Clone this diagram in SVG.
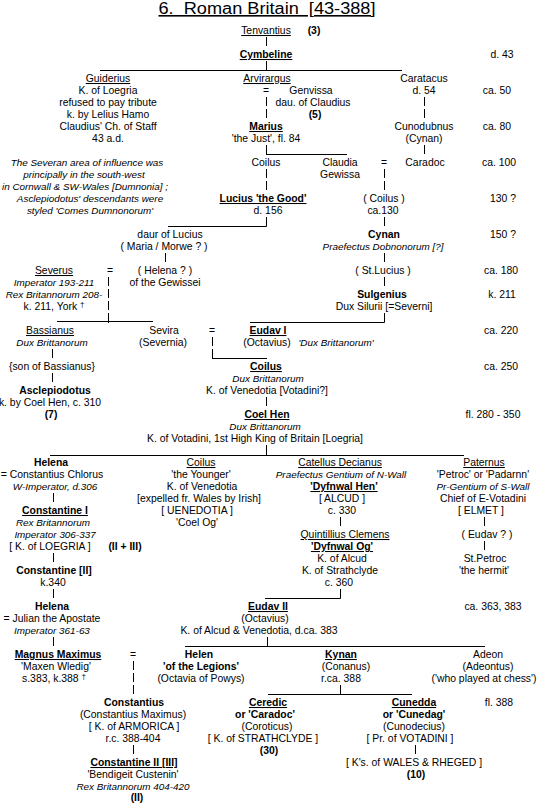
<svg xmlns="http://www.w3.org/2000/svg" width="537" height="803" viewBox="0 0 537 803">
<style>
text{font-family:"Liberation Sans",Arial,sans-serif;font-size:10.4px;fill:#000;text-anchor:middle}
.b{font-weight:bold}
.i{font-style:italic;font-size:9.9px}
.u{text-decoration:underline}
.t{font-size:16px;text-decoration:underline}
.sup{font-size:8px}
#connectors line{stroke:#000;stroke-width:1}
</style>
<rect x="0" y="0" width="537" height="803" fill="#fff"/>
<text class="t" x="267" y="14" textLength="217" lengthAdjust="spacingAndGlyphs" xml:space="preserve">6.  Roman Britain  [43-388]</text>

<g id="connectors">
<line x1="100" y1="70.5" x2="402" y2="70.5"/>
<line x1="266" y1="154.5" x2="347" y2="154.5"/>
<line x1="168" y1="226.5" x2="266.5" y2="226.5"/>
<line x1="57" y1="321.5" x2="153" y2="321.5"/>
<line x1="250" y1="322.5" x2="384.5" y2="322.5"/>
<line x1="212" y1="358.5" x2="267" y2="358.5"/>
<line x1="50" y1="455.5" x2="464" y2="455.5"/>
<line x1="265" y1="598.5" x2="340.5" y2="598.5"/>
<line x1="185" y1="646.5" x2="485" y2="646.5"/>
<line x1="268" y1="694.5" x2="412" y2="694.5"/>
<line x1="266.5" y1="37" x2="266.5" y2="46"/>
<line x1="266.5" y1="61" x2="266.5" y2="70"/>
<line x1="266.5" y1="97" x2="266.5" y2="106"/>
<line x1="266.5" y1="109" x2="266.5" y2="118"/>
<line x1="424.5" y1="97" x2="424.5" y2="106"/>
<line x1="424.5" y1="109" x2="424.5" y2="118"/>
<line x1="424.5" y1="145" x2="424.5" y2="154"/>
<line x1="266.5" y1="145" x2="266.5" y2="154.5"/>
<line x1="266.5" y1="169" x2="266.5" y2="178"/>
<line x1="266.5" y1="181" x2="266.5" y2="190"/>
<line x1="384.5" y1="169" x2="384.5" y2="178"/>
<line x1="384.5" y1="181" x2="384.5" y2="190"/>
<line x1="266.5" y1="217" x2="266.5" y2="226.5"/>
<line x1="384.5" y1="217" x2="384.5" y2="226"/>
<line x1="165.5" y1="253" x2="165.5" y2="262"/>
<line x1="384.5" y1="253" x2="384.5" y2="262"/>
<line x1="108.5" y1="277" x2="108.5" y2="286"/>
<line x1="108.5" y1="289" x2="108.5" y2="298"/>
<line x1="108.5" y1="301" x2="108.5" y2="310"/>
<line x1="108.5" y1="313" x2="108.5" y2="323"/>
<line x1="384.5" y1="277" x2="384.5" y2="286"/>
<line x1="384.5" y1="313" x2="384.5" y2="322.5"/>
<line x1="212.5" y1="337" x2="212.5" y2="346"/>
<line x1="212.5" y1="349" x2="212.5" y2="358.5"/>
<line x1="52.5" y1="349" x2="52.5" y2="358"/>
<line x1="52.5" y1="373" x2="52.5" y2="382"/>
<line x1="266.5" y1="397" x2="266.5" y2="406"/>
<line x1="266.5" y1="445" x2="266.5" y2="455.5"/>
<line x1="53.5" y1="493" x2="53.5" y2="502"/>
<line x1="340.5" y1="517" x2="340.5" y2="526"/>
<line x1="484.5" y1="517" x2="484.5" y2="526"/>
<line x1="484.5" y1="541" x2="484.5" y2="550"/>
<line x1="53.5" y1="553" x2="53.5" y2="562"/>
<line x1="53.5" y1="589" x2="53.5" y2="598"/>
<line x1="340.5" y1="589" x2="340.5" y2="598.5"/>
<line x1="53.5" y1="637" x2="53.5" y2="646"/>
<line x1="267.5" y1="637" x2="267.5" y2="646.5"/>
<line x1="133.5" y1="661" x2="133.5" y2="670"/>
<line x1="133.5" y1="673" x2="133.5" y2="682"/>
<line x1="133.5" y1="685" x2="133.5" y2="694"/>
<line x1="340.5" y1="685" x2="340.5" y2="694.5"/>
<line x1="133.5" y1="745" x2="133.5" y2="754"/>
<line x1="415.5" y1="745" x2="415.5" y2="754"/>
<text x="266" y="94">=</text>
<text x="384" y="166">=</text>
<text x="110" y="274">=</text>
<text x="212" y="334">=</text>
<text x="133" y="658">=</text>
</g>

<g id="tenvantius"><text class="u" x="266" y="34">Tenvantius</text><text class="b" x="314" y="34">(3)</text></g>
<g id="cymbeline"><text class="b u" x="266" y="58">Cymbeline</text></g>
<g id="guiderius">
<text class="u" x="108" y="82">Guiderius</text>
<text x="108" y="94">K. of Loegria</text>
<text x="108" y="106">refused to pay tribute</text>
<text x="108" y="118">k. by Lelius Hamo</text>
<text x="108" y="130">Claudius' Ch. of Staff</text>
<text x="108" y="142">43 a.d.</text>
</g>
<g id="arvirargus"><text class="u" x="267" y="82">Arvirargus</text></g>
<g id="genvissa">
<text x="311" y="94">Genvissa</text>
<text x="313" y="106">dau. of Claudius</text>
<text class="b" x="315" y="118">(5)</text>
</g>
<g id="caratacus">
<text x="424" y="82">Caratacus</text>
<text x="424" y="94">d. 54</text>
</g>
<g id="cunodubnus">
<text x="424" y="130">Cunodubnus</text>
<text x="424" y="142">(Cynan)</text>
</g>
<g id="marius">
<text class="b u" x="266" y="130">Marius</text>
<text x="266" y="142">'the Just', fl. 84</text>
</g>
<g id="note">
<text class="i" x="87" y="166">The Severan area of influence was</text>
<text class="i" x="84" y="178">principally in the south-west</text>
<text class="i" x="85" y="190">in Cornwall &amp; SW-Wales [Dumnonia] ;</text>
<text class="i" x="90" y="202">Asclepiodotus' descendants were</text>
<text class="i" x="90" y="214">styled 'Comes Dumnonorum'</text>
</g>
<g id="coilus1"><text x="266" y="166">Coilus</text></g>
<g id="claudia"><text x="340" y="166">Claudia</text><text x="340" y="178">Gewissa</text></g>
<g id="caradoc"><text x="425" y="166">Caradoc</text></g>
<g id="lucius">
<text class="b u" x="263" y="202">Lucius 'the Good'</text>
<text x="268" y="214">d. 156</text>
</g>
<g id="coilus2"><text x="384" y="202">( Coilus )</text><text x="383" y="214">ca.130</text></g>
<g id="cynan"><text class="b" x="384" y="238">Cynan</text><text class="i" x="383" y="250">Praefectus Dobnonorum [?]</text></g>
<g id="stlucius"><text x="383" y="274">( St.Lucius )</text></g>
<g id="sulgenius"><text class="b" x="382" y="298">Sulgenius</text><text x="384" y="310">Dux Silurii [=Severni]</text></g>
<g id="daur">
<text x="170" y="238">daur of Lucius</text>
<text x="164" y="250">( Maria / Morwe ? )</text>
</g>
<g id="helena0"><text x="165" y="274">( Helena ? )</text><text x="165" y="286">of the Gewissei</text></g>
<g id="severus">
<text class="u" x="54" y="274">Severus</text>
<text class="i" x="54" y="286">Imperator 193-211</text>
<text class="i" x="54" y="298">Rex Britannorum 208-</text>
<text x="54" y="310">k. 211, York <tspan class="sup" dy="-3">†</tspan></text>
</g>
<g id="bassianus">
<text class="u" x="50" y="334">Bassianus</text>
<text class="i" x="52" y="346">Dux Brittanorum</text>
</g>
<g id="sonofbassianus"><text x="52" y="370">{son of Bassianus}</text></g>
<g id="asclepiodotus">
<text class="b" x="55" y="394">Asclepiodotus</text>
<text x="50" y="406">k. by Coel Hen, c. 310</text>
<text class="b" x="51" y="418">(7)</text>
</g>
<g id="sevira"><text x="164" y="334">Sevira</text><text x="163" y="346">(Severnia)</text></g>
<g id="eudav1">
<text class="b u" x="268" y="334">Eudav I</text>
<text x="267" y="346">(Octavius)</text>
<text class="i" x="336" y="346">'Dux Brittanorum'</text>
</g>
<g id="coilus3">
<text class="b u" x="266" y="370">Coilus</text>
<text class="i" x="268" y="382">Dux Brittanorum</text>
<text x="267" y="394">K. of Venedotia [Votadini?]</text>
</g>
<g id="coelhen">
<text class="b u" x="267" y="418">Coel Hen</text>
<text class="i" x="265" y="430">Dux Brittanorum</text>
<text x="255" y="442">K. of Votadini, 1st High King of Britain [Loegria]</text>
</g>
<g id="helena1">
<text class="b" x="51" y="466">Helena</text>
<text x="52" y="478">= Constantius Chlorus</text>
<text class="i" x="55" y="490">W-Imperator, d.306</text>
</g>
<g id="constantine1">
<text class="b u" x="55" y="514">Constantine I</text>
<text class="i" x="53" y="526">Rex Britannorum</text>
<text class="i" x="55" y="538">Imperator 306-337</text>
<text x="50" y="550">[ K. of LOEGRIA ]</text>
<text class="b" x="125" y="550">(II + III)</text>
</g>
<g id="constantine2"><text class="b" x="54" y="574">Constantine [II]</text><text x="53" y="586">k.340</text></g>
<g id="helena2">
<text class="b" x="52" y="610">Helena</text>
<text x="52" y="622">= Julian the Apostate</text>
<text class="i" x="52" y="634">Imperator 361-63</text>
</g>
<g id="magnus">
<text class="b u" x="58" y="658">Magnus Maximus</text>
<text x="56" y="670">'Maxen Wledig'</text>
<text x="54" y="682">s.383, k.388 <tspan class="sup" dy="-3">†</tspan></text>
</g>
<g id="coilus4">
<text class="u" x="201" y="466">Coilus</text>
<text x="201" y="478">'the Younger'</text>
<text x="202" y="490">K. of Venedotia</text>
<text x="199" y="502">[expelled fr. Wales by Irish]</text>
<text x="197" y="514">[ UENEDOTIA ]</text>
<text x="197" y="526">'Coel Og'</text>
</g>
<g id="catellus">
<text class="u" x="340" y="466">Catellus Decianus</text>
<text class="i" x="341" y="478">Praefectus Gentium of N-Wall</text>
<text class="b u" x="344" y="490">'Dyfnwal Hen'</text>
<text x="342" y="502">[ ALCUD ]</text>
<text x="342" y="514">c. 330</text>
</g>
<g id="quintillius">
<text class="u" x="345" y="538">Quintillius Clemens</text>
<text class="b u" x="342" y="550">'Dyfnwal Og'</text>
<text x="342" y="562">K. of Alcud</text>
<text x="340" y="574">K. of Strathclyde</text>
<text x="339" y="586">c. 360</text>
</g>
<g id="paternus">
<text class="u" x="484" y="466">Paternus</text>
<text x="483" y="478">'Petroc' or 'Padarnn'</text>
<text class="i" x="483" y="490">Pr-Gentium of S-Wall</text>
<text x="483" y="502">Chief of E-Votadini</text>
<text x="481" y="514">[ ELMET ]</text>
</g>
<g id="eudav0"><text x="487" y="538">( Eudav ? )</text></g>
<g id="stpetroc"><text x="485" y="562">St.Petroc</text><text x="484" y="574">'the hermit'</text></g>
<g id="eudav2">
<text class="b u" x="268" y="610">Eudav II</text>
<text x="265" y="622">(Octavius)</text>
<text x="259" y="634">K. of Alcud &amp; Venedotia, d.ca. 383</text>
</g>
<g id="helen">
<text class="b" x="199" y="658">Helen</text>
<text class="b" x="201" y="670">'of the Legions'</text>
<text x="201" y="682">(Octavia of Powys)</text>
</g>
<g id="kynan">
<text class="b u" x="341" y="658">Kynan</text>
<text x="346" y="670">(Conanus)</text>
<text x="341" y="682">r.ca. 388</text>
</g>
<g id="adeon">
<text x="488" y="658">Adeon</text>
<text x="488" y="670">(Adeontus)</text>
<text x="484" y="682">('who played at chess')</text>
</g>
<g id="constantius">
<text class="b" x="134" y="706">Constantius</text>
<text x="133" y="718">(Constantius Maximus)</text>
<text x="134" y="730">[ K. of ARMORICA ]</text>
<text x="133" y="742">r.c. 388-404</text>
</g>
<g id="constantine3">
<text class="b u" x="134" y="766">Constantine II [III]</text>
<text x="133" y="778">'Bendigeit Custenin'</text>
<text class="i" x="133" y="790">Rex Britannorum 404-420</text>
<text class="b" x="137" y="801">(II)</text>
</g>
<g id="ceredic">
<text class="b u" x="268" y="706">Ceredic</text>
<text class="b" x="265" y="718">or 'Caradoc'</text>
<text x="267" y="730">(Coroticus)</text>
<text x="263" y="742">[ K. of STRATHCLYDE ]</text>
<text class="b" x="269" y="754">(30)</text>
</g>
<g id="cunedda">
<text class="b u" x="414" y="706">Cunedda</text>
<text class="b" x="414" y="718">or 'Cunedag'</text>
<text x="414" y="730">(Cunodecius)</text>
<text x="410" y="742">[ Pr. of VOTADINI ]</text>
<text x="414" y="766">[ K's. of WALES &amp; RHEGED ]</text>
<text class="b" x="416" y="778">(10)</text>
</g>
<g id="dates">
<text x="502" y="58">d. 43</text>
<text x="497" y="94">ca. 50</text>
<text x="497" y="130">ca. 80</text>
<text x="499" y="166">ca. 100</text>
<text x="503" y="202">130 ?</text>
<text x="503" y="238">150 ?</text>
<text x="501" y="274">ca. 180</text>
<text x="502" y="298">k. 211</text>
<text x="501" y="334">ca. 220</text>
<text x="501" y="370">ca. 250</text>
<text x="493" y="418">fl. 280 - 350</text>
<text x="493" y="610">ca. 363, 383</text>
<text x="499" y="706">fl. 388</text>
</g>
</svg>
